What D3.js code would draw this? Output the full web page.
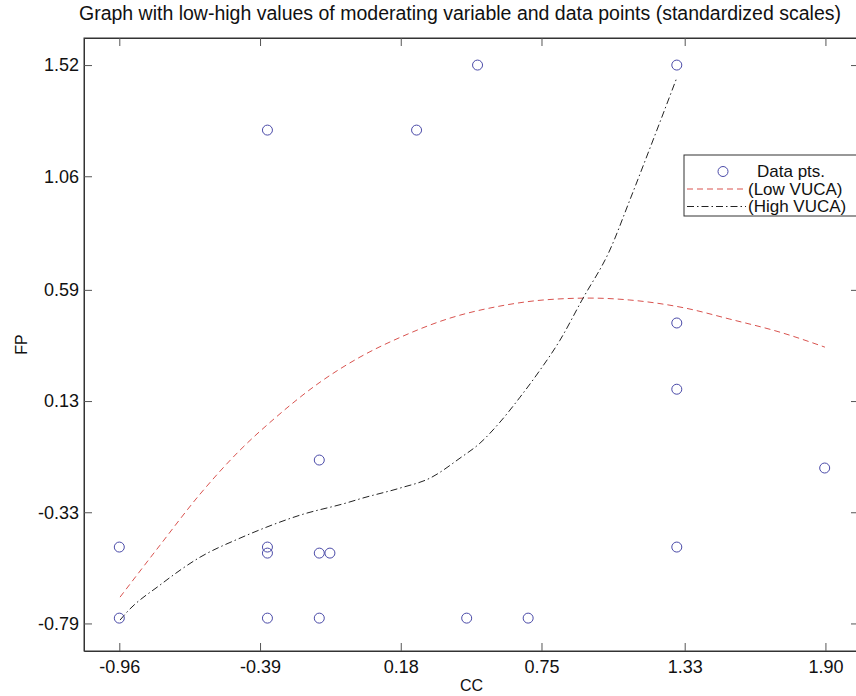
<!DOCTYPE html>
<html>
<head>
<meta charset="utf-8">
<script src="https://cdn.jsdelivr.net/npm/d3@7/dist/d3.min.js"></script>
<style>
  html, body { margin: 0; padding: 0; background: #fff; }
  svg { display: block; font-family: "Liberation Sans", Arial, sans-serif; }
</style>
</head>
<body>
<svg id="chart" width="856" height="696"></svg>
<script>
// ---- data ----
const titleText = "Graph with low-high values of moderating variable and data points (standardized scales)";
const xLabel = "CC";
const yLabel = "FP";
const xTickValues = [-0.96, -0.39, 0.18, 0.75, 1.33, 1.90];
const xTickLabels = ["-0.96", "-0.39", "0.18", "0.75", "1.33", "1.90"];
const yTickValues = [-0.79, -0.33, 0.13, 0.59, 1.06, 1.52];
const yTickLabels = ["-0.79", "-0.33", "0.13", "0.59", "1.06", "1.52"];

// data points
const ptsX = [-0.96, -0.96, -0.36, -0.36, -0.36, -0.36, -0.15, -0.15, -0.107, -0.15, 0.244, 0.491, 0.447, 0.696, 1.298, 1.298, 1.298, 1.298, 1.897];
const ptsY = [-0.474, -0.768, 1.251, -0.474, -0.499, -0.768, -0.114, -0.499, -0.499, -0.768, 1.251, 1.52, -0.768, -0.768, 1.52, 0.453, 0.179, -0.474, -0.147];

// Low VUCA curve (red dashed)
const lowX = [-0.957, -0.795, -0.633, -0.471, -0.329, -0.147, 0.015, 0.181, 0.379, 0.582, 0.756, 0.946, 1.108, 1.331, 1.513, 1.716, 1.898];
const lowY = [-0.681, -0.466, -0.255, -0.073, 0.060, 0.208, 0.312, 0.395, 0.473, 0.523, 0.548, 0.556, 0.548, 0.515, 0.469, 0.415, 0.353];

// High VUCA curve (black dash-dot)
const highX = [-0.957, -0.929, -0.795, -0.633, -0.471, -0.362, -0.228, -0.042, 0.027, 0.177, 0.298, 0.420, 0.501, 0.582, 0.663, 0.744, 0.825, 0.914, 1.027, 1.108, 1.202, 1.299];
const highY = [-0.776, -0.743, -0.631, -0.516, -0.437, -0.391, -0.342, -0.292, -0.271, -0.230, -0.189, -0.106, -0.044, 0.043, 0.146, 0.258, 0.382, 0.548, 0.755, 0.962, 1.210, 1.470];

const legendLabels = ["Data pts.", "(Low VUCA)", "(High VUCA)"];

// ---- layout ----
const mLeft = 84, mRight = 859, mTop = 38, mBottom = 651;
const svg = d3.select("#chart");

const x = d3.scaleLinear().domain([-1.103, 2.036]).range([mLeft, mRight]);
const y = d3.scaleLinear().domain([-0.904, 1.632]).range([mBottom, mTop]);

const tickLen = 8;
const axisColor = "#333";
const fontFam = "'Liberation Sans', Arial, sans-serif";

svg.append("clipPath").attr("id", "plotclip")
  .append("rect").attr("x", mLeft).attr("y", mTop).attr("width", mRight - mLeft).attr("height", mBottom - mTop);

svg.append("rect")
  .attr("x", mLeft).attr("y", mTop).attr("width", mRight - mLeft).attr("height", mBottom - mTop)
  .attr("fill", "none").attr("stroke", axisColor).attr("stroke-width", 1);

const xAxisB = d3.axisBottom(x).tickValues(xTickValues).tickFormat((d, i) => xTickLabels[i]).tickSizeInner(-tickLen).tickSizeOuter(0).tickPadding(9);
const gxb = svg.append("g").attr("transform", `translate(0,${mBottom})`).call(xAxisB);
const xAxisT = d3.axisTop(x).tickValues(xTickValues).tickFormat("").tickSizeInner(-tickLen).tickSizeOuter(0);
const gxt = svg.append("g").attr("transform", `translate(0,${mTop})`).call(xAxisT);
const yAxisL = d3.axisLeft(y).tickValues(yTickValues).tickFormat((d, i) => yTickLabels[i]).tickSizeInner(-tickLen).tickSizeOuter(0).tickPadding(5);
const gyl = svg.append("g").attr("transform", `translate(${mLeft},0)`).call(yAxisL);
const yAxisR = d3.axisRight(y).tickValues(yTickValues).tickFormat("").tickSizeInner(-tickLen).tickSizeOuter(0);
const gyr = svg.append("g").attr("transform", `translate(${mRight},0)`).call(yAxisR);

[gxb, gxt, gyl, gyr].forEach(g => {
  g.attr("font-size", null).attr("font-family", null);
  g.select(".domain").attr("stroke", axisColor);
  g.selectAll(".tick line").attr("stroke", "#555");
  g.selectAll(".tick text").attr("fill", "#111").style("font-size", "18px").style("font-family", fontFam);
});

svg.append("text")
  .attr("x", 460).attr("y", 20)
  .attr("text-anchor", "middle")
  .style("font-size", "19.5px").attr("fill", "#111")
  .text(titleText);

svg.append("text")
  .attr("x", (mLeft + mRight) / 2).attr("y", 691)
  .attr("text-anchor", "middle")
  .style("font-size", "16px").attr("fill", "#111")
  .text(xLabel);
svg.append("text")
  .attr("transform", `translate(27,${(mTop + mBottom) / 2}) rotate(-90)`)
  .attr("text-anchor", "middle")
  .style("font-size", "16px").attr("fill", "#111")
  .text(yLabel);

const plot = svg.append("g").attr("clip-path", "url(#plotclip)");

const line = d3.line().x(d => x(d[0])).y(d => y(d[1])).curve(d3.curveMonotoneX);

const lowData = lowX.map((v, i) => [v, lowY[i]]);
const highData = highX.map((v, i) => [v, highY[i]]);

plot.append("path").datum(lowData)
  .attr("d", line).attr("fill", "none")
  .attr("stroke", "#d9534f").attr("stroke-width", 1)
  .attr("stroke-dasharray", "6,4");

plot.append("path").datum(highData)
  .attr("d", line).attr("fill", "none")
  .attr("stroke", "#222").attr("stroke-width", 1)
  .attr("stroke-dasharray", "7,3,1.5,3");

plot.selectAll("circle.pt").data(ptsX.map((v, i) => [v, ptsY[i]]))
  .enter().append("circle").attr("class", "pt")
  .attr("cx", d => x(d[0])).attr("cy", d => y(d[1]))
  .attr("r", 5)
  .attr("fill", "none").attr("stroke", "#4a4aa8").attr("stroke-width", 1);

const lg = svg.append("g");
lg.append("rect").attr("x", 684).attr("y", 155).attr("width", 190).attr("height", 61)
  .attr("fill", "#fff").attr("stroke", "#333").attr("stroke-width", 1);
const rowY = [171.5, 189, 206.5];
lg.append("circle").attr("cx", 723).attr("cy", rowY[0]).attr("r", 5)
  .attr("fill", "none").attr("stroke", "#4a4aa8").attr("stroke-width", 1);
lg.append("line").attr("x1", 687).attr("x2", 746).attr("y1", rowY[1]).attr("y2", rowY[1])
  .attr("stroke", "#d9534f").attr("stroke-dasharray", "6,4");
lg.append("line").attr("x1", 687).attr("x2", 746).attr("y1", rowY[2]).attr("y2", rowY[2])
  .attr("stroke", "#222").attr("stroke-dasharray", "7,3,1.5,3");
const textX = [757, 748, 748];
legendLabels.forEach((t, i) => {
  lg.append("text").attr("x", textX[i]).attr("y", rowY[i]).attr("dy", "0.35em")
    .style("font-size", "17px").attr("fill", "#111").text(t);
});
</script>
</body>
</html>
